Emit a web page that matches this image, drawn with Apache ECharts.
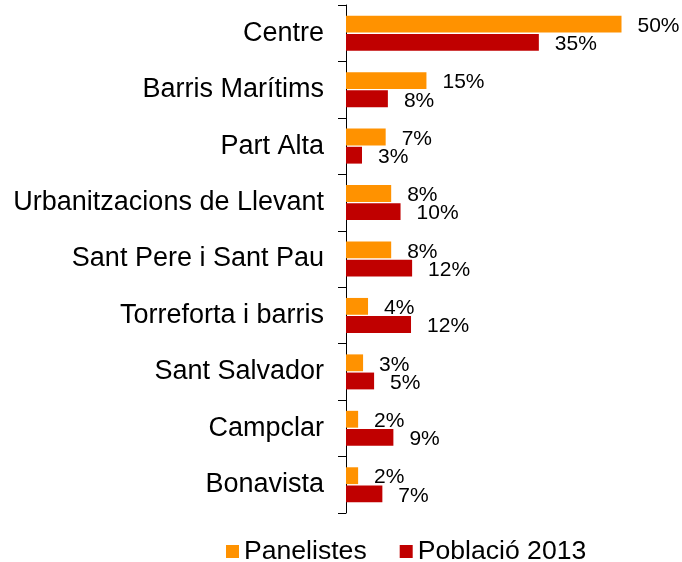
<!DOCTYPE html>
<html>
<head>
<meta charset="utf-8">
<script src="https://cdn.jsdelivr.net/npm/echarts@6/dist/echarts.min.js"></script>
<style>
  html, body { margin: 0; padding: 0; background: #fff; }
  #chart { width: 682px; height: 562px; }
</style>
</head>
<body>
<div id="chart"></div>
<script>
// barrios, de arriba a abajo
const categories = ['Centre', 'Barris Marítims', 'Part Alta', 'Urbanitzacions de Llevant',
  'Sant Pere i Sant Pau', 'Torreforta i barris', 'Sant Salvador', 'Campclar', 'Bonavista']
const panelistes = [50, 14.6, 7.2, 8.2, 8.2, 4.0, 3.1, 2.2, 2.2]
const poblacio = [35, 7.6, 2.9, 9.9, 12.0, 11.8, 5.1, 8.6, 6.6]
const seriesNames = ['Panelistes', 'Població 2013']

const font = 'Liberation Sans, Arial, sans-serif'
const myChart = echarts.init(document.getElementById('chart'))

const barLabel = {
  show: true,
  position: 'right',
  distance: 16,
  offset: [0, 2],
  color: '#000',
  fontSize: 21,
  fontFamily: font,
  formatter: (p) => Math.round(p.value) + '%'
}

const option = {
  animation: false,
  textStyle: { fontFamily: font },
  grid: { left: 346, right: 5.4, top: 5, bottom: 49 },
  xAxis: {
    type: 'value',
    min: 0,
    max: 60,
    show: false
  },
  yAxis: {
    type: 'category',
    data: categories,
    inverse: true,
    axisLine: { show: true, lineStyle: { color: '#000', width: 1 } },
    axisTick: { show: true, length: 8, lineStyle: { color: '#000' } },
    axisLabel: { color: '#000', fontSize: 27, fontFamily: font, margin: 22 },
    splitLine: { show: false }
  },
  legend: {
    data: seriesNames,
    top: 533,
    left: 221,
    itemWidth: 13,
    itemHeight: 13,
    itemGap: 33,
    icon: 'rect',
    textStyle: { color: '#000', fontSize: 26.6, fontFamily: font }
  },
  series: [
    {
      name: seriesNames[0],
      type: 'bar',
      data: panelistes,
      itemStyle: { color: '#FF9200' },
      barCategoryGap: '38%',
      barGap: '8%',
      label: barLabel
    },
    {
      name: seriesNames[1],
      type: 'bar',
      data: poblacio,
      itemStyle: { color: '#C00000' },
      label: barLabel
    }
  ]
}
myChart.setOption(option)
</script>
</body>
</html>
